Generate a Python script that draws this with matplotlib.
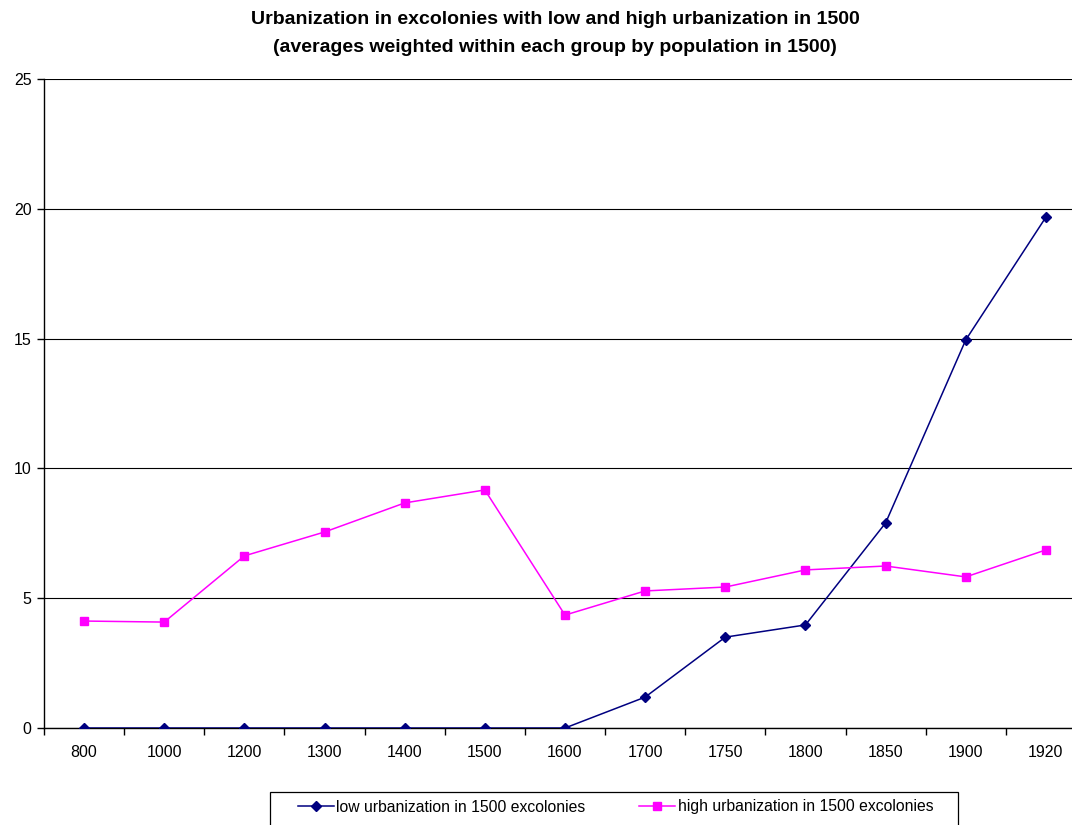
import matplotlib
matplotlib.use("Agg")
import matplotlib.pyplot as plt
from matplotlib.patches import Rectangle
import numpy as np

plt.rcParams['font.family'] = ['Liberation Sans', 'DejaVu Sans']

years = ["800", "1000", "1200", "1300", "1400", "1500", "1600", "1700", "1750", "1800", "1850", "1900", "1920"]
low_urban = [0, 0, 0, 0, 0, 0, 0, 1.19, 3.5, 3.97, 7.9, 14.95, 19.68]
high_urban = [4.12, 4.08, 6.63, 7.55, 8.67, 9.17, 4.35, 5.28, 5.43, 6.09, 6.24, 5.82, 6.86]
yticks = [0, 5, 10, 15, 20, 25]

W, H = 1072, 825
fig = plt.figure(figsize=(W/100, H/100), dpi=100)
x0, x1 = 44, 1086
y0, y1 = 79, 728
ax = fig.add_axes([x0/W, 1 - y1/H, (x1 - x0)/W, (y1 - y0)/H])

x = np.arange(len(years))
ax.plot(x, low_urban, color='#000080', marker='D', markersize=5.5, linewidth=1.1,
        label='low urbanization in 1500 excolonies', zorder=3)
ax.plot(x, high_urban, color='#FF00FF', marker='s', markersize=5.5, linewidth=1.1,
        label='high urbanization in 1500 excolonies', zorder=3)

ax.set_xlim(-0.5, len(years) - 0.5)
ax.set_ylim(0, 25)
ax.set_yticks(yticks)
ax.set_yticklabels([str(v) for v in yticks], fontsize=11.5)
ax.set_xticks(x)
ax.set_xticklabels(years, fontsize=11.5)
ax.set_xticks(np.arange(len(years) + 1) - 0.5, minor=True)
ax.tick_params(axis='x', which='major', length=0, pad=12)
ax.tick_params(axis='x', which='minor', length=5, direction='out', color='black', width=1)
ax.tick_params(axis='y', length=5, direction='out', width=1, pad=4)

ax.grid(axis='y', color='black', linewidth=0.8)
ax.set_axisbelow(True)
for s in ['top', 'right']:
    ax.spines[s].set_visible(False)
ax.spines['left'].set_linewidth(1)
ax.spines['bottom'].set_linewidth(1)

fig.text(555/W, 1 - 20/H, 'Urbanization in excolonies with low and high urbanization in 1500',
         ha='center', va='center', fontsize=14, fontweight='bold')
fig.text(555/W, 1 - 47/H, '(averages weighted within each group by population in 1500)',
         ha='center', va='center', fontsize=14, fontweight='bold')

leg = fig.legend(loc='center left', bbox_to_anchor=(298/W, 1 - 807/H), ncol=2,
                 fontsize=11.3, frameon=False, borderpad=0, borderaxespad=0,
                 handlelength=2.3, handletextpad=0.15, columnspacing=3.4)
fig.patches.append(Rectangle((270/W, 1 - 835/H), (958 - 270)/W, (835 - 792)/H,
                             transform=fig.transFigure, fill=False,
                             edgecolor='black', linewidth=0.9))

fig.savefig('out.png', dpi=100)
